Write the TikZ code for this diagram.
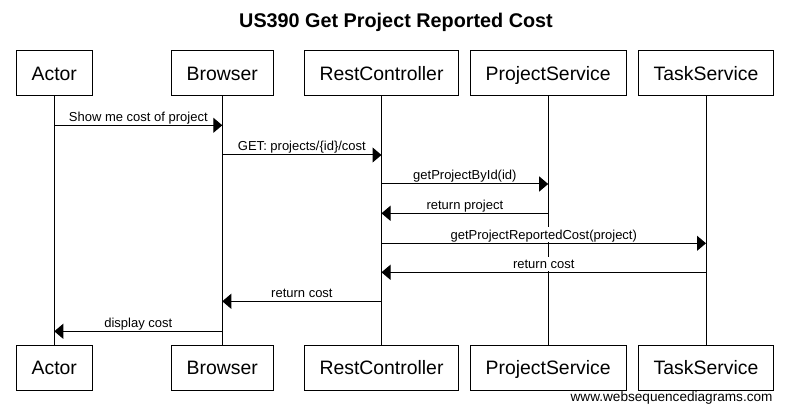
\documentclass[tikz,border=0pt]{standalone}
\usepackage{fontspec}
\setmainfont{Liberation Sans}
\usetikzlibrary{arrows.meta,positioning}

\begin{document}
\begin{tikzpicture}[x=1pt, y=1pt, line width=1pt]
\tikzstyle{part} = [rectangle, draw, fill=white, minimum height=45pt, inner xsep=15.5pt,
  text height=14pt, text depth=0pt, font=\fontsize{19.4}{23}\selectfont]
\tikzstyle{life} = [draw]
\tikzstyle{msg} = [-{Triangle[length=9pt, width=15pt]}]
\tikzstyle{lbl} = [anchor=south, yshift=0.5pt, fill=white, inner xsep=1pt, inner ysep=3pt,
  text depth=0pt, font=\fontsize{13}{15}\selectfont]
\useasboundingbox (0,0) rectangle (790,-414);
% title
\node[anchor=base, font=\fontsize{19.8}{24}\selectfont\bfseries] (title) at (396,-27.3) {US390 Get Project Reported Cost};
% participants, top row
\node[part] (actor) at (54.3,-73.5) {Actor};
\node[part] (browser) at (222.3,-73.5) {Browser};
\node[part] (rest) at (381.5,-73.5) {RestController};
\node[part] (project) at (548.2,-73.5) {ProjectService};
\node[part] (task) at (706,-73.5) {TaskService};
% participants, bottom row
\node[part, below=248pt of actor] (actor-b) {Actor};
\node[part, below=248pt of browser] (browser-b) {Browser};
\node[part, below=248pt of rest] (rest-b) {RestController};
\node[part, below=248pt of project] (project-b) {ProjectService};
\node[part, below=248pt of task] (task-b) {TaskService};
% lifelines
\draw[life] (actor) -- (actor-b);
\draw[life] (browser) -- (browser-b);
\draw[life] (rest) -- (rest-b);
\draw[life] (project) -- (project-b);
\draw[life] (task) -- (task-b);
% message rows
\coordinate (m1) at (0,-125.3);
\coordinate (m2) at (0,-155);
\coordinate (m3) at (0,-184);
\coordinate (m4) at (0,-213.3);
\coordinate (m5) at (0,-243.3);
\coordinate (m6) at (0,-272.3);
\coordinate (m7) at (0,-301.3);
\coordinate (m8) at (0,-331.3);
% messages
\draw[msg] (actor |- m1) -- (browser |- m1) node[midway, lbl] {Show me cost of project};
\draw[msg] (browser |- m2) -- (rest |- m2) node[midway, lbl] {GET: projects/\{id\}/cost};
\draw[msg] (rest |- m3) -- (project |- m3) node[midway, lbl] {getProjectById(id)};
\draw[msg] (project |- m4) -- (rest |- m4) node[midway, lbl] {return project};
\draw[msg] (rest |- m5) -- (task |- m5) node[midway, lbl] {getProjectReportedCost(project)};
\draw[msg] (task |- m6) -- (rest |- m6) node[midway, lbl] {return cost};
\draw[msg] (rest |- m7) -- (browser |- m7) node[midway, lbl] {return cost};
\draw[msg] (browser |- m8) -- (actor |- m8) node[midway, lbl] {display cost};
% footer
\node[anchor=base east, inner sep=0pt, font=\fontsize{13.6}{16}\selectfont] (site) at (773,-401) {www.websequencediagrams.com};
\end{tikzpicture}
\end{document}
